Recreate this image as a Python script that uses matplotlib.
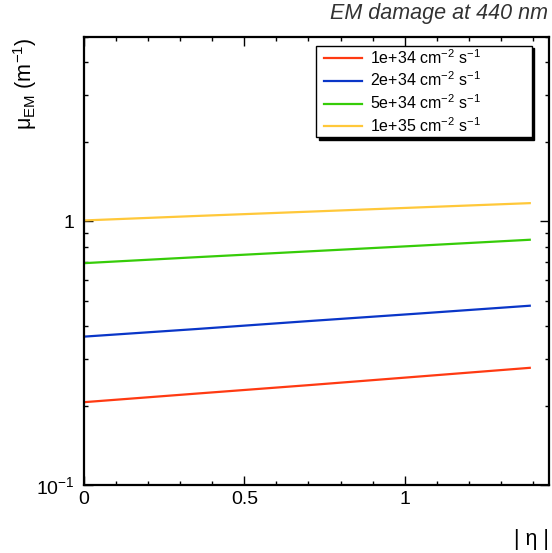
import matplotlib
matplotlib.use("Agg")
import matplotlib.pyplot as plt
from matplotlib.lines import Line2D
from matplotlib.legend_handler import HandlerLine2D
from matplotlib.ticker import MultipleLocator, FixedLocator, FuncFormatter, NullFormatter

plt.rcParams['font.family'] = ['Liberation Sans', 'DejaVu Sans']
plt.rcParams['mathtext.fontset'] = 'custom'
plt.rcParams['mathtext.rm'] = 'Liberation Sans'
plt.rcParams['mathtext.it'] = 'Liberation Sans:italic'
plt.rcParams['mathtext.bf'] = 'Liberation Sans:bold'

# data
eta = [0.0, 0.35, 0.7, 1.05, 1.39]
mu_1e34 = [0.206, 0.222, 0.239, 0.258, 0.278]
mu_2e34 = [0.365, 0.390, 0.418, 0.447, 0.478]
mu_5e34 = [0.693, 0.730, 0.768, 0.808, 0.850]
mu_1e35 = [1.006, 1.046, 1.086, 1.128, 1.170]
labels = ["1e+34 cm$^{-2}$ s$^{-1}$", "2e+34 cm$^{-2}$ s$^{-1}$",
          "5e+34 cm$^{-2}$ s$^{-1}$", "1e+35 cm$^{-2}$ s$^{-1}$"]
colors = ["#ff3a12", "#0a36c8", "#36cc08", "#ffc83a"]
series = [mu_1e34, mu_2e34, mu_5e34, mu_1e35]

W, H = 552, 553
fig = plt.figure(figsize=(W/100, H/100), dpi=100)
ax = fig.add_axes([84/W, 1-485/H, (549-84)/W, (485-36.7)/H])

for y, c, l in zip(series, colors, labels):
    ax.plot(eta, y, color=c, lw=1.6, label=l)

ax.set_yscale('log')
ax.set_xlim(0, 1.45)
ax.set_ylim(0.1, 5)

ax.xaxis.set_major_locator(FixedLocator([0, 0.5, 1.0]))
ax.xaxis.set_minor_locator(MultipleLocator(0.1))
ax.xaxis.set_major_formatter(FuncFormatter(lambda v, p: "%g" % v))
ax.yaxis.set_major_locator(FixedLocator([0.1, 1.0]))
ax.yaxis.set_minor_locator(FixedLocator([0.2, 0.3, 0.4, 0.5, 0.6, 0.7, 0.8, 0.9, 2, 3, 4, 5]))
ax.yaxis.set_major_formatter(FuncFormatter(lambda v, p: "1" if abs(v-1) < 1e-9 else "$10^{-1}$"))
ax.yaxis.set_minor_formatter(NullFormatter())

ax.tick_params(which='both', direction='in', top=True, right=True, width=1.0, labelsize=14)
ax.tick_params(which='major', length=6.5)
ax.tick_params(which='minor', length=3.2)
ax.tick_params(axis='x', pad=4)
ax.tick_params(axis='y', pad=7)
for s in ax.spines.values():
    s.set_linewidth(1.6)

fig.text(548/W, 1-13/H, "EM damage at 440 nm", ha='right', va='center',
         fontsize=15.5, style='italic', color='#333333')
fig.text(25/W, 1-37/H, "μ$_{\\rm EM}$ (m$^{-1}$)", rotation=90, ha='center', va='top',
         fontsize=15.5)
fig.text(549/W, 1-540/H, "| η |", ha='right', va='center', fontsize=15.5)

leg = ax.legend(loc='upper left', bbox_to_anchor=(316/W, 1-45.7/H, (531.7-316)/W, 0),
                bbox_transform=fig.transFigure, mode='expand', borderaxespad=0,
                fontsize=11.5, handlelength=2.7, handletextpad=0.56, labelspacing=0.25,
                borderpad=0.15, fancybox=False, framealpha=1,
                handler_map={Line2D: HandlerLine2D(xpad=0.32)},
                shadow={'color': 'black', 'alpha': 1})
leg.get_frame().set_edgecolor('black')
leg.get_frame().set_linewidth(1.0)

fig.savefig("out.png", dpi=100)
